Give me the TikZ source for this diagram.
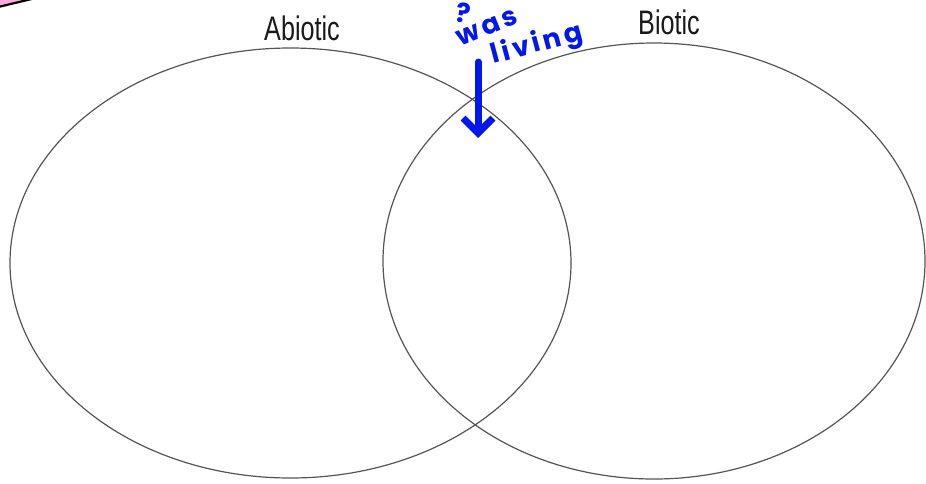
\documentclass[tikz,border=0pt]{standalone}
\usepackage{fontspec}
\usepackage{tikz}
\usetikzlibrary{shapes.geometric,arrows.meta}
\newfontfamily\labelfont[FakeStretch=0.74]{Liberation Sans}
\newfontfamily\handfont[LetterSpace=12]{Poppins}
\definecolor{penblue}{RGB}{0,24,235}
\definecolor{setgray}{RGB}{85,85,85}
\definecolor{notepink}{RGB}{250,170,225}

\begin{document}
\begin{tikzpicture}[x=1pt,y=-1pt,
    set/.style={ellipse,draw=setgray,line width=1.2pt,inner sep=0pt},
    setname/.style={font=\labelfont\fontsize{34}{34}\selectfont,text=black!90,inner sep=0pt},
    scribble/.style={font=\handfont\bfseries\fontsize{27}{27}\selectfont,text=penblue,inner sep=0pt}]
\useasboundingbox (0,0) rectangle (926,483);

% Corner of the pink note
\filldraw[fill=notepink,draw=black,line width=2.2pt,line join=round]
  (-6,-4) -- (40,-3) -- (-6,8) -- cycle;

% Sets
\node[set,minimum width=561pt,minimum height=430pt] (abiotic) at (290.5,263) {};
\node[set,minimum width=542pt,minimum height=436pt] (biotic) at (654,261) {};

% Labels
\node[setname] (abioticname) at (302,28) {Abiotic};
\node[setname] (bioticname) at (669,22) {Biotic};

% Handwritten note
\node[scribble,rotate=-10] (query) at (463,13) {?};
\node[scribble,rotate=22] (was) at (487,28) {was};
\node[scribble,rotate=15] (living) at (537,45) {living};
\coordinate (from) at (478,62);
\coordinate (to) at (478,138);
\draw[penblue,line width=7pt,line cap=round,line join=round,
  -{Straight Barb[length=15pt,width=30pt]}] (from) -- (to);
\end{tikzpicture}
\end{document}
